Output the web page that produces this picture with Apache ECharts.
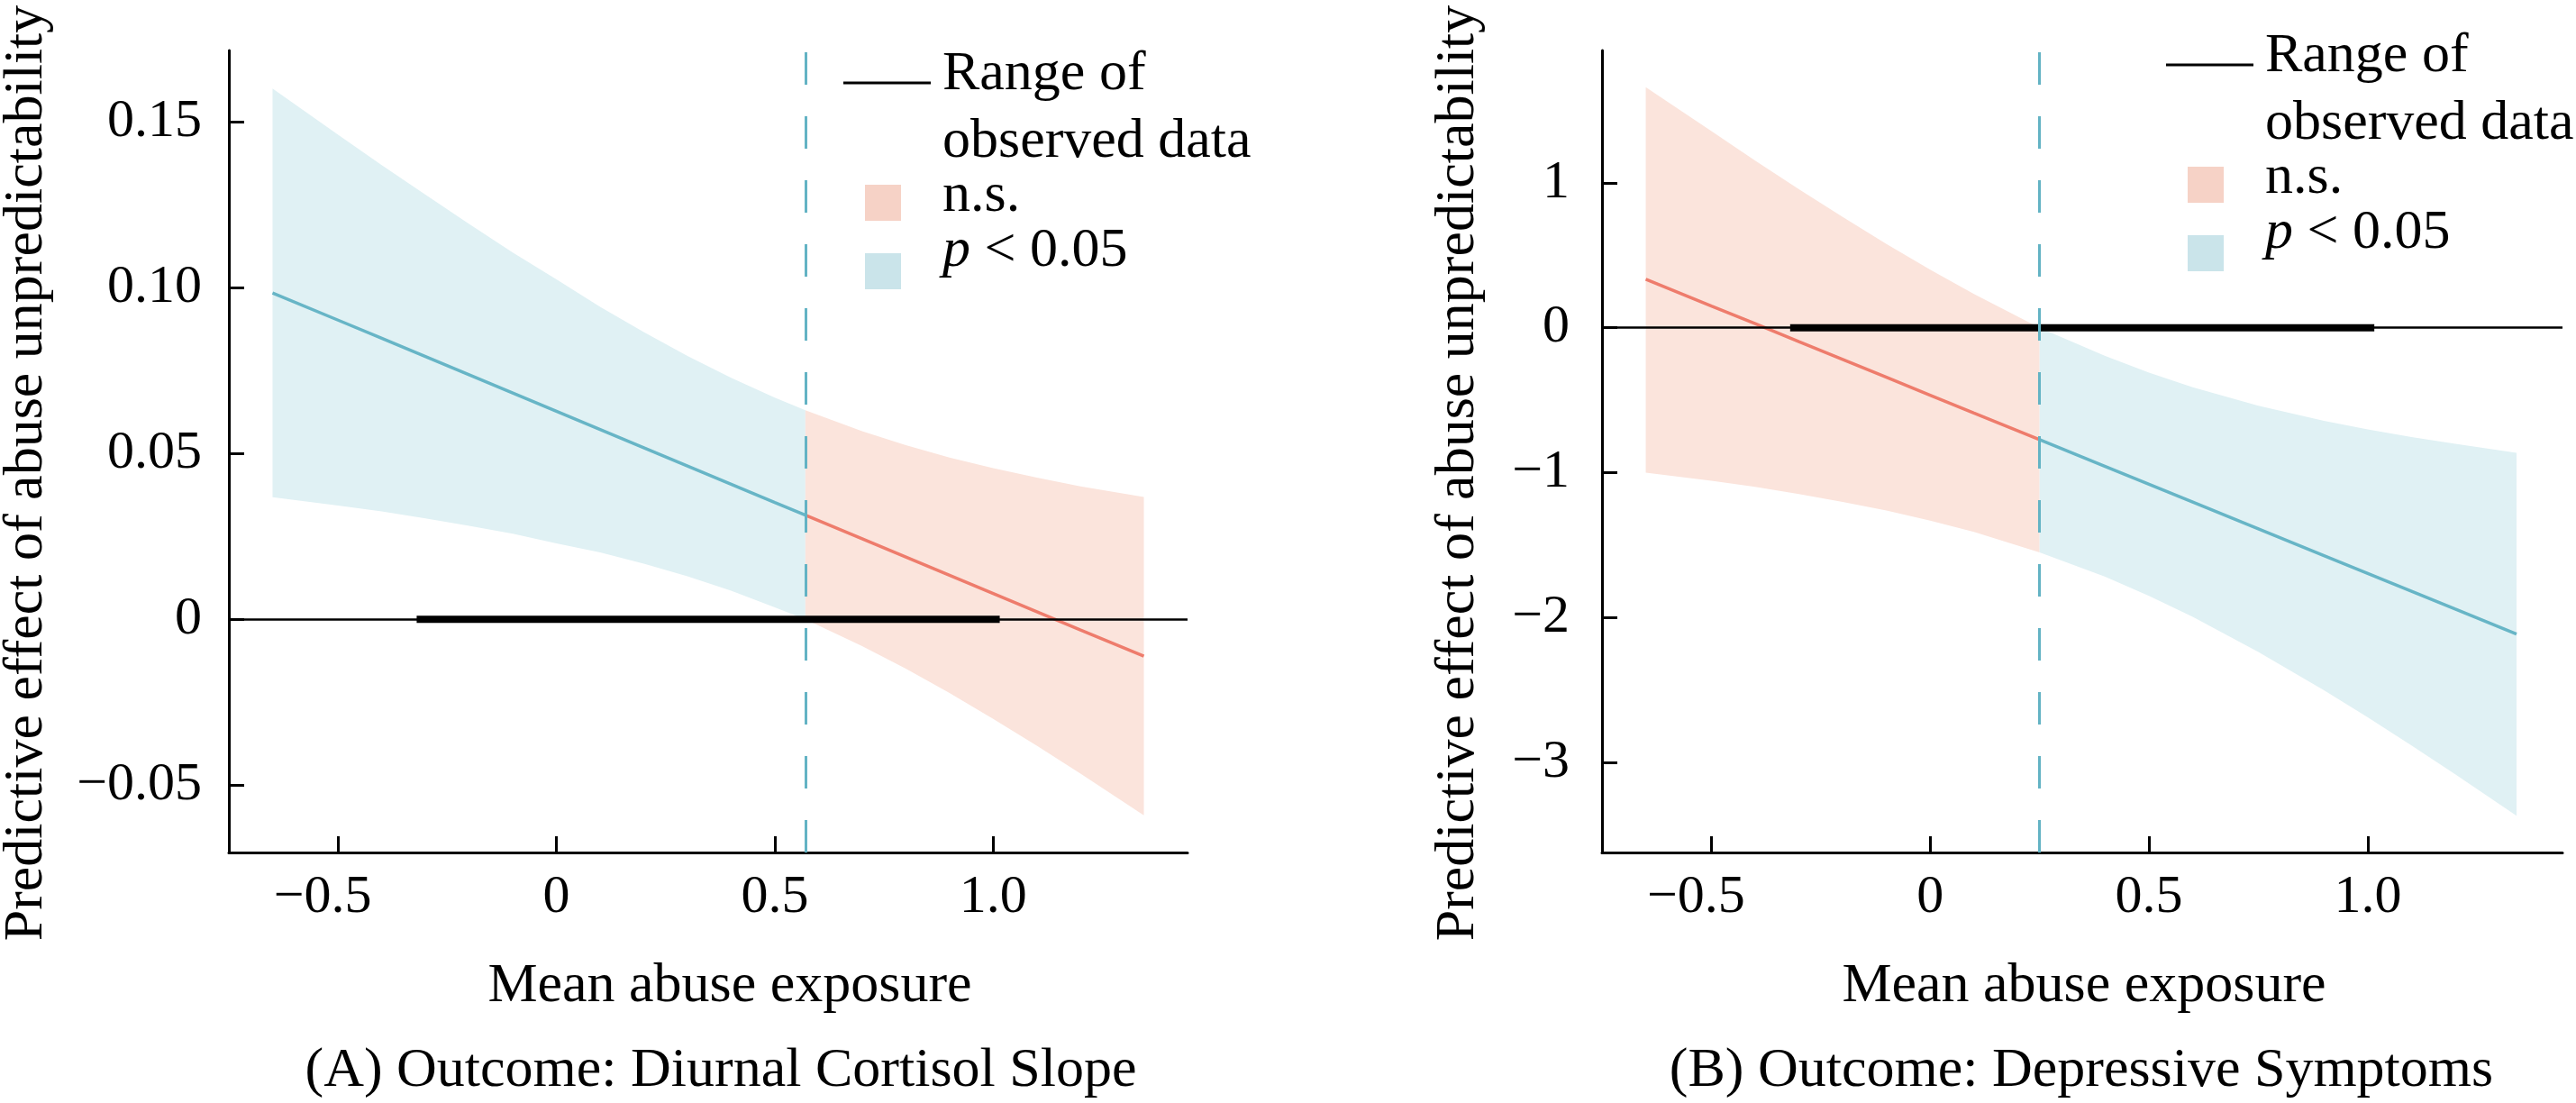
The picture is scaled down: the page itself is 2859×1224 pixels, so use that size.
<!DOCTYPE html>
<html>
<head>
<meta charset="utf-8">
<title>Predictive effect of abuse unpredictability</title>
<script src="https://cdn.jsdelivr.net/npm/echarts@6/dist/echarts.min.js"></script>
<style>
  html, body { margin: 0; padding: 0; background: #fff; }
  #chart { width: 2859px; height: 1224px; }
</style>
</head>
<body>
<div id="chart"></div>
<script>
'use strict';

// Panel A: diurnal cortisol slope
const aSigX = [-0.65, -0.5, -0.4, -0.3, -0.2, -0.1, 0, 0.1, 0.2, 0.3, 0.4, 0.5, 0.57];
const aSigFit = [0.0984, 0.0902, 0.0847, 0.0792, 0.0737, 0.0682, 0.0627, 0.0572, 0.0517, 0.0462, 0.0407, 0.0352, 0.0314];
const aSigHigh = [0.1600, 0.1461, 0.1369, 0.1280, 0.1192, 0.1106, 0.1025, 0.0942, 0.0866, 0.0794, 0.0728, 0.0668, 0.0630];
const aSigLow = [0.0368, 0.0343, 0.0325, 0.0304, 0.0282, 0.0258, 0.0229, 0.0202, 0.0168, 0.0130, 0.0086, 0.0036, 0.0];
const aNsX = [0.57, 0.7, 0.8, 0.9, 1.0, 1.1, 1.2, 1.345];
const aNsFit = [0.0314, 0.0243, 0.0188, 0.0133, 0.0078, 0.0023, -0.0032, -0.0111];
const aNsHigh = [0.0630, 0.0567, 0.0525, 0.0488, 0.0456, 0.0427, 0.0401, 0.0369];
const aNsLow = [0.0, -0.0081, -0.0149, -0.0222, -0.0300, -0.0381, -0.0465, -0.0591];
const aBoundary = 0.57;
const aYTicks = [-0.05, 0, 0.05, 0.10, 0.15];

// Panel B: depressive symptoms
const bNsX = [-0.65, -0.5, -0.4, -0.3, -0.2, -0.1, 0, 0.1, 0.25];
const bNsFit = [0.335, 0.150, 0.028, -0.096, -0.219, -0.342, -0.465, -0.588, -0.772];
const bNsHigh = [1.66, 1.356, 1.153, 0.956, 0.764, 0.578, 0.401, 0.233, 0.0];
const bNsLow = [-1.00, -1.055, -1.098, -1.147, -1.201, -1.261, -1.330, -1.408, -1.55];
const bSigX = [0.25, 0.4, 0.5, 0.6, 0.75, 0.9, 1.0, 1.1, 1.2, 1.34];
const bSigFit = [-0.772, -0.957, -1.080, -1.203, -1.387, -1.572, -1.695, -1.818, -1.941, -2.113];
const bSigHigh = [0.0, -0.195, -0.309, -0.410, -0.538, -0.642, -0.701, -0.754, -0.801, -0.863];
const bSigLow = [-1.55, -1.718, -1.850, -1.995, -2.236, -2.501, -2.688, -2.881, -3.080, -3.366];
const bBoundary = 0.25;
const bYTicks = [-3, -2, -1, 0, 1];

// shared
const observedRange = [-0.32, 1.015];
const xTicks = [-0.5, 0, 0.5, 1.0];

const FONT = '"Liberation Serif", "Times New Roman", serif';
const BLUE_BAND = '#e0f1f4';
const PINK_BAND = '#fbe4dc';
const BLUE_LINE = '#67b5c6';
const PINK_LINE = '#ee7c6c';
const DASH_COLOR = '#63b3c4';

function fmtMinus(v, digits) {
  if (v === 0) return '0';
  const s = Math.abs(v).toFixed(digits);
  return v < 0 ? '\u2212' + s : s;
}

function xAxisOpt(gridIndex) {
  return {
    type: 'value',
    gridIndex: gridIndex,
    min: -0.75,
    max: 1.445,
    splitLine: { show: false },
    axisLine: { onZero: false, lineStyle: { color: '#000', width: 3 } },
    axisTick: { inside: true, length: 18, lineStyle: { color: '#000', width: 3 }, customValues: xTicks },
    axisLabel: {
      customValues: xTicks,
      margin: 20,
      color: '#000',
      fontFamily: FONT,
      fontSize: 60,
      formatter: (v) => (v < 0 ? '{m|' + fmtMinus(v, 1) + '}' : (v === 0 ? '0' : v.toFixed(1))),
      rich: { m: { fontFamily: FONT, fontSize: 60, color: '#000', padding: [0, 34, 0, 0] } }
    }
  };
}

function yAxisOpt(gridIndex, min, max, ticks, digits, margin) {
  return {
    type: 'value',
    gridIndex: gridIndex,
    min: min,
    max: max,
    splitLine: { show: false },
    axisLine: { onZero: false, lineStyle: { color: '#000', width: 3 } },
    axisTick: { inside: true, length: 17, lineStyle: { color: '#000', width: 3 }, customValues: ticks },
    axisLabel: {
      customValues: ticks,
      margin: margin,
      color: '#000',
      fontFamily: FONT,
      fontSize: 60,
      formatter: (v) => fmtMinus(v, digits)
    }
  };
}

function bandSeries(idx, xs, lo, hi, color) {
  return {
    type: 'custom',
    xAxisIndex: idx,
    yAxisIndex: idx,
    silent: true,
    clip: true,
    z: 1,
    data: [[xs[0], lo[0]]],
    renderItem: (params, api) => {
      const top = xs.map((x, i) => api.coord([x, hi[i]]));
      const bottom = xs.map((x, i) => api.coord([x, lo[i]])).reverse();
      return { type: 'polygon', shape: { points: top.concat(bottom) }, style: { fill: color } };
    }
  };
}

function fitSeries(idx, xs, fit, color) {
  return {
    type: 'line',
    xAxisIndex: idx,
    yAxisIndex: idx,
    silent: true,
    symbol: 'none',
    z: 4,
    data: xs.map((x, i) => [x, fit[i]]),
    lineStyle: { color: color, width: 3.5 }
  };
}

function zeroSeries(idx) {
  return {
    type: 'line',
    xAxisIndex: idx,
    yAxisIndex: idx,
    silent: true,
    symbol: 'none',
    z: 2,
    data: [],
    markLine: {
      silent: true,
      symbol: ['none', 'none'],
      label: { show: false },
      data: [{ yAxis: 0 }],
      lineStyle: { color: '#000', width: 2.5, type: 'solid' }
    }
  };
}

function rangeSeries(idx) {
  return {
    type: 'line',
    xAxisIndex: idx,
    yAxisIndex: idx,
    silent: true,
    symbol: 'none',
    z: 3,
    data: observedRange.map((x) => [x, 0]),
    lineStyle: { color: '#000', width: 8, cap: 'butt' }
  };
}

function boundarySeries(idx, xb) {
  return {
    type: 'line',
    xAxisIndex: idx,
    yAxisIndex: idx,
    silent: true,
    symbol: 'none',
    z: 5,
    data: [],
    markLine: {
      silent: true,
      symbol: ['none', 'none'],
      label: { show: false },
      data: [{ xAxis: xb }],
      lineStyle: { color: DASH_COLOR, width: 3, type: [36, 35] }
    }
  };
}

function txt(x, y, text, extra) {
  return Object.assign({
    type: 'text',
    x: x,
    y: y,
    silent: true,
    style: Object.assign({
      text: text,
      fontFamily: FONT,
      fontSize: 62,
      fill: '#000',
      align: 'left',
      verticalAlign: 'middle'
    }, (extra && extra.style) || {})
  }, extra && extra.rotation !== undefined ? { rotation: extra.rotation } : {});
}

function legendGroup(lineX0, lineX1, lineY, boxX, textX, rows) {
  return [
    { type: 'line', silent: true, shape: { x1: lineX0, y1: lineY, x2: lineX1, y2: lineY }, style: { stroke: '#000', lineWidth: 3 } },
    txt(textX, rows[0], 'Range of'),
    txt(textX, rows[1], 'observed data'),
    { type: 'rect', silent: true, shape: { x: boxX, y: rows[2] - 13, width: 40, height: 40 }, style: { fill: '#f6d2c6' } },
    txt(textX, rows[2], 'n.s.'),
    { type: 'rect', silent: true, shape: { x: boxX, y: rows[3] + 2, width: 40, height: 40 }, style: { fill: '#cae4ea' } },
    txt(textX, rows[3], '{i|p} < 0.05', {
      style: { rich: { i: { fontFamily: FONT, fontSize: 62, fontStyle: 'italic', fill: '#000' } } }
    })
  ];
}

const yTitle = 'Predictive effect of abuse unpredictability';

const option = {
  animation: false,
  backgroundColor: '#fff',
  textStyle: { fontFamily: FONT, color: '#000' },
  grid: [
    { left: 254, top: 56, width: 1064, height: 890, outerBoundsMode: 'none' },
    { left: 1778, top: 56, width: 1066, height: 890, outerBoundsMode: 'none' }
  ],
  xAxis: [xAxisOpt(0), xAxisOpt(1)],
  yAxis: [
    yAxisOpt(0, -0.0703, 0.1715, aYTicks, 2, 30),
    yAxisOpt(1, -3.62, 1.913, bYTicks, 0, 36)
  ],
  series: [
    bandSeries(0, aSigX, aSigLow, aSigHigh, BLUE_BAND),
    bandSeries(0, aNsX, aNsLow, aNsHigh, PINK_BAND),
    zeroSeries(0),
    rangeSeries(0),
    fitSeries(0, aSigX, aSigFit, BLUE_LINE),
    fitSeries(0, aNsX, aNsFit, PINK_LINE),
    boundarySeries(0, aBoundary),

    bandSeries(1, bNsX, bNsLow, bNsHigh, PINK_BAND),
    bandSeries(1, bSigX, bSigLow, bSigHigh, BLUE_BAND),
    zeroSeries(1),
    rangeSeries(1),
    fitSeries(1, bNsX, bNsFit, PINK_LINE),
    fitSeries(1, bSigX, bSigFit, BLUE_LINE),
    boundarySeries(1, bBoundary)
  ],
  graphic: [
    txt(30, 525, yTitle, { rotation: Math.PI / 2, style: { align: 'center' } }),
    txt(1619, 525, yTitle, { rotation: Math.PI / 2, style: { align: 'center' } }),
    txt(810, 1095, 'Mean abuse exposure', { style: { align: 'center' } }),
    txt(2313, 1095, 'Mean abuse exposure', { style: { align: 'center' } }),
    txt(800, 1189, '(A) Outcome: Diurnal Cortisol Slope', { style: { align: 'center' } }),
    txt(2310, 1189, '(B) Outcome: Depressive Symptoms', { style: { align: 'center' } })
  ]
    .concat(legendGroup(936, 1033, 92, 960, 1046, [83, 158, 218, 279]))
    .concat(legendGroup(2404, 2501, 72, 2428, 2514, [63, 138, 198, 259]))
};

const chart = echarts.init(document.getElementById('chart'), null, { renderer: 'canvas' });
chart.setOption(option);
</script>
</body>
</html>
